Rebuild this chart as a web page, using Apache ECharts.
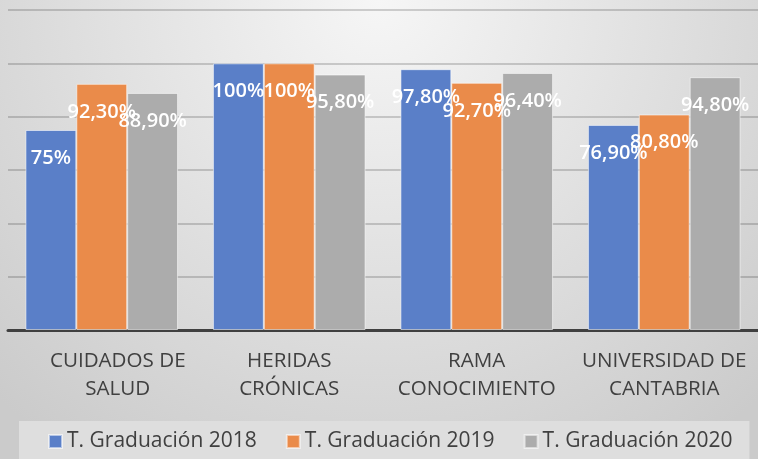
<!DOCTYPE html>
<html>
<head>
<meta charset="utf-8">
<script src="https://cdn.jsdelivr.net/npm/echarts@6/dist/echarts.min.js"></script>
<style>
html,body{margin:0;padding:0;}
#c{width:758px;height:459px;}
</style>
</head>
<body>
<div id="c"></div>
<script>
var categories = ['CUIDADOS DE\nSALUD', 'HERIDAS\nCRÓNICAS', 'RAMA\nCONOCIMIENTO', 'UNIVERSIDAD DE\nCANTABRIA'];
var seriesNames = ['T. Graduación 2018', 'T. Graduación 2019', 'T. Graduación 2020'];
var values2018 = [75, 100, 97.8, 76.9];
var values2019 = [92.3, 100, 92.7, 80.8];
var values2020 = [88.9, 95.8, 96.4, 94.8];
var colors = ['#5a7fc8', '#ea8b4a', '#acacac'];

function fmt(v) {
  if (Math.round(v) === v) return v + '%';
  return v.toFixed(2).replace('.', ',') + '%';
}

var allValues = [values2018, values2019, values2020];
var series = allValues.map(function (vals, i) {
  return {
    name: seriesNames[i],
    type: 'bar',
    data: vals,
    barGap: '0%',
    barCategoryGap: '18.6%',
    itemStyle: { color: colors[i], borderColor: 'rgba(255,255,255,0.55)', borderWidth: 1 },
    label: {
      show: true,
      position: 'insideTop',
      distance: 18,
      color: '#ffffff',
      fontFamily: 'Open Sans',
      fontWeight: 600,
      fontSize: 20,
      formatter: function (p) { return fmt(p.value); }
    }
  };
});

// first category label sits slightly right of its group in the reference
var categoryData = categories.map(function (c, i) {
  return i === 0 ? { value: c, textStyle: { padding: [0, 0, 0, 32] } } : c;
});

var chart = echarts.init(document.getElementById('c'), null, { renderer: 'canvas' });
chart.setOption({
  animation: false,
  backgroundColor: {
    type: 'radial', x: 0.5, y: 0, r: 1.2,
    colorStops: [{ offset: 0, color: '#f6f6f6' }, { offset: 1, color: '#cbcbcb' }]
  },
  color: colors,
  grid: { left: 8, right: -2, top: 10, bottom: 129, containLabel: false },
  xAxis: {
    type: 'category',
    data: categoryData,
    axisLine: { lineStyle: { color: '#404040', width: 3 } },
    axisTick: { show: false },
    axisLabel: {
      color: '#404040', fontFamily: 'Open Sans', fontSize: 20.6, lineHeight: 28, margin: 17, interval: 0
    }
  },
  yAxis: {
    type: 'value', min: 0, max: 120, interval: 20,
    axisLabel: { show: false }, axisLine: { show: false }, axisTick: { show: false },
    splitLine: { lineStyle: { color: 'rgba(0,0,0,0.17)', width: 2 } }
  },
  legend: {
    data: seriesNames,
    left: 19, top: 421,
    padding: [10, 17, 12, 29],
    backgroundColor: '#dedede',
    itemWidth: 13, itemHeight: 13, itemGap: 29,
    icon: 'rect',
    textStyle: { color: '#404040', fontFamily: 'Open Sans', fontSize: 21 }
  },
  series: series
});
</script>
</body>
</html>
